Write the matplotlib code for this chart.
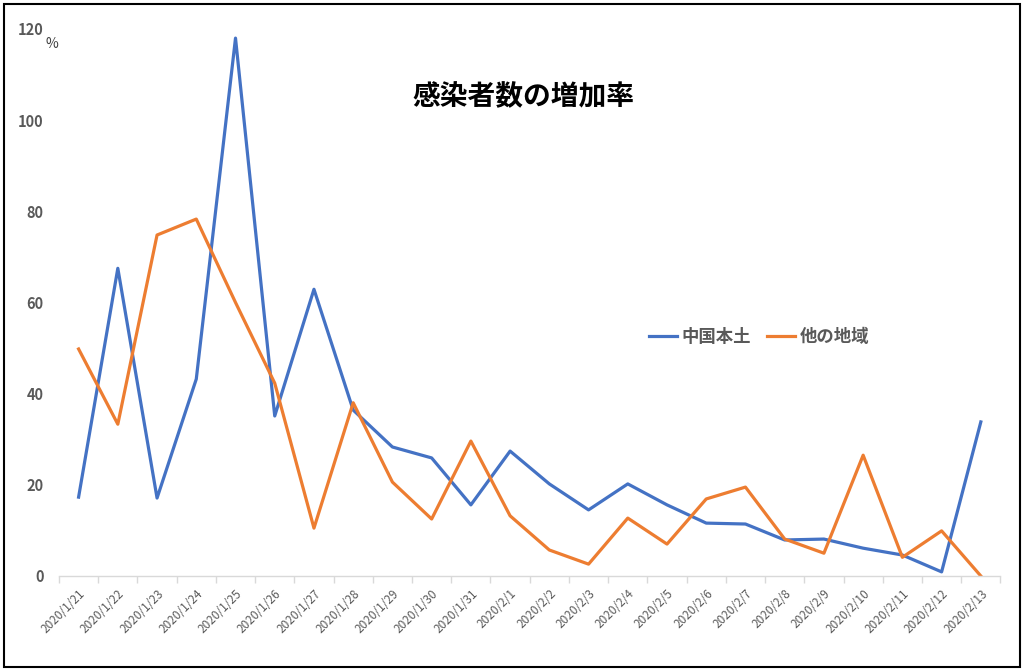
import numpy as np
import matplotlib
matplotlib.use("Agg")
import matplotlib.pyplot as plt
from matplotlib.patches import Rectangle

plt.rcParams['font.family'] = ['Noto Sans CJK JP', 'DejaVu Sans']

dates = ["2020/1/21", "2020/1/22", "2020/1/23", "2020/1/24", "2020/1/25", "2020/1/26",
         "2020/1/27", "2020/1/28", "2020/1/29", "2020/1/30", "2020/1/31", "2020/2/1",
         "2020/2/2", "2020/2/3", "2020/2/4", "2020/2/5", "2020/2/6", "2020/2/7",
         "2020/2/8", "2020/2/9", "2020/2/10", "2020/2/11", "2020/2/12", "2020/2/13"]
china = [17.3, 67.5, 17.1, 43.2, 118.0, 35.1, 62.9, 36.4, 28.3, 25.9, 15.6, 27.4,
         20.2, 14.5, 20.2, 15.6, 11.6, 11.4, 7.9, 8.1, 6.1, 4.6, 0.9, 33.8]
others = [49.8, 33.3, 74.8, 78.3, 60.0, 42.3, 10.5, 38.0, 20.6, 12.5, 29.6, 13.2,
          5.7, 2.6, 12.7, 7.0, 16.9, 19.5, 8.1, 5.0, 26.5, 4.1, 9.9, 0.0]
yticks = [0, 20, 40, 60, 80, 100, 120]

fig = plt.figure(figsize=(10.24, 6.71), dpi=100)
ax = fig.add_axes([0.0576, 0.1416, 0.9194, 0.8152])

x = np.arange(len(dates))
ax.plot(x, china, color="#4472C4", lw=2.3, label="中国本土")
ax.plot(x, others, color="#ED7D31", lw=2.3, label="他の地域")

ax.set_xlim(-0.5, len(dates) - 0.5)
ax.set_ylim(0, 120)
ax.set_yticks(yticks)
ax.set_yticklabels([str(v) for v in yticks], fontsize=10.5, fontweight="bold", color="#595959")
ax.tick_params(axis="y", length=0, pad=11)

ax.set_xticks(x)
ax.set_xticklabels(dates, rotation=45, ha="right", rotation_mode="anchor",
                   fontsize=8.5, color="#595959")
ax.tick_params(axis="x", length=0, pad=8)
ax.set_xticks(np.arange(-0.5, len(dates)), minor=True)
ax.tick_params(axis="x", which="minor", length=5, color="#D9D9D9", width=1)

for s in ["top", "right", "left"]:
    ax.spines[s].set_visible(False)
ax.spines["bottom"].set_color("#D9D9D9")
ax.spines["bottom"].set_linewidth(1)

fig.text(0.044, 0.934, "%", fontsize=10, color="#404040", ha="left", va="center")
fig.text(0.511, 0.855, "感染者数の増加率", fontsize=20, fontweight="bold",
         color="black", ha="center", va="center")

leg = ax.legend(loc="center left", bbox_to_anchor=(0.61, 0.437), ncol=2, frameon=False,
                handlelength=1.6, columnspacing=0.9, handletextpad=0.3,
                prop={"size": 12.5, "weight": "bold"})
for t in leg.get_texts():
    t.set_color("#595959")

fig.patches.append(Rectangle((0.004, 0.006), 0.992, 0.988, transform=fig.transFigure,
                             fill=False, edgecolor="black", lw=1.5))

fig.savefig("out.png", dpi=100)
